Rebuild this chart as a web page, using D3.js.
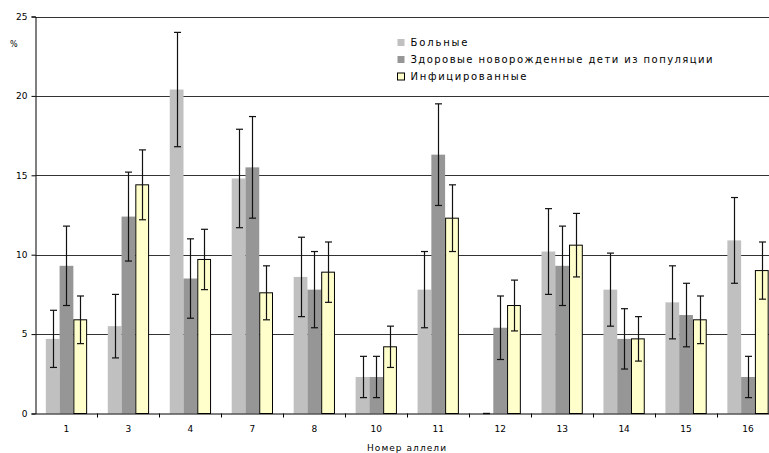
<!DOCTYPE html>
<html><head><meta charset="utf-8">
<script src="https://cdn.jsdelivr.net/npm/d3@7"></script>
<style>body{margin:0;background:#fff}svg{display:block}text{font-family:"DejaVu Sans",Verdana,sans-serif;fill:#000}</style>
</head><body>
<script>
const categories = ["1","3","4","7","8","10","11","12","13","14","15","16"];
const seriesNames = ["Больные","Здоровые новорожденные дети из популяции","Инфицированные"];
const patients    = [4.7,5.5,20.4,14.8,8.6,2.3,7.8,0,10.2,7.8,7.0,10.9];
const patientsErr = [1.8,2.0,3.6,3.1,2.5,1.3,2.4,0,2.7,2.3,2.3,2.7];
const healthy     = [9.3,12.4,8.5,15.5,7.8,2.3,16.3,5.4,9.3,4.7,6.2,2.3];
const healthyErr  = [2.5,2.8,2.5,3.2,2.4,1.3,3.2,2.0,2.5,1.9,2.0,1.3];
const infected    = [5.9,14.4,9.7,7.6,8.9,4.2,12.3,6.8,10.6,4.7,5.9,9.0];
const infectedErr = [1.5,2.2,1.9,1.7,1.9,1.3,2.1,1.6,2.0,1.4,1.5,1.8];
const yTicks = [0,5,10,15,20,25];
const yLabel = "%";
const xTitle = "Номер аллели";

(function(){
const W = 769, H = 453;
const colors = ["#c0c0c0","#969696","#ffffcc"];
const strokes = ["none","none","#000"];
const seriesVals = [patients, healthy, infected];
const seriesErr = [patientsErr, healthyErr, infectedErr];

const svg = d3.select("body").append("svg").attr("width", W).attr("height", H);
const pLeft = 35.5, pRight = 779, pBottom = 413.5, pTop = 16.5;
const x0 = d3.scaleBand().domain(categories).range([pLeft, pRight]).paddingInner(0).paddingOuter(0);
const x1 = d3.scaleBand().domain([0,1,2]).range([0, x0.bandwidth()]).paddingInner(0).paddingOuter(0.75);
const y = d3.scaleLinear().domain([0,25]).range([pBottom, pTop]);

// gridlines
svg.append("g").selectAll("line").data(yTicks.filter(d=>d>0)).join("line")
  .attr("x1", pLeft).attr("x2", pRight)
  .attr("y1", d=>Math.round(y(d))+0.5).attr("y2", d=>Math.round(y(d))+0.5)
  .attr("stroke", "#333").attr("stroke-width", 1);

// bars
const rows = [];
categories.forEach((c,i)=>{ for(let s=0;s<3;s++) rows.push({c, s, v: seriesVals[s][i], e: seriesErr[s][i]}); });
svg.append("g").selectAll("rect").data(rows).join("rect")
  .attr("x", d=>x0(d.c)+x1(d.s) + (d.s===2?0.5:0))
  .attr("width", d=>x1.bandwidth() - (d.s===2?1:0))
  .attr("y", d=>y(d.v))
  .attr("height", d=>Math.max(0, y(0)-y(d.v)))
  .attr("fill", d=>colors[d.s])
  .attr("stroke", d=>strokes[d.s]).attr("stroke-width", 1);

// error bars
const eg = svg.append("g").attr("stroke","#111").attr("stroke-width",1.2);
rows.forEach(d=>{
  const cx = Math.round(x0(d.c)+x1(d.s)+x1.bandwidth()/2)+0.5;
  const yt = y(d.v+d.e), yb = y(Math.max(0,d.v-d.e));
  eg.append("line").attr("x1",cx).attr("x2",cx).attr("y1",yt).attr("y2",yb);
  eg.append("line").attr("x1",cx-3.5).attr("x2",cx+3.5).attr("y1",yt).attr("y2",yt);
  eg.append("line").attr("x1",cx-3.5).attr("x2",cx+3.5).attr("y1",yb).attr("y2",yb);
});

// y axis
const yAxis = d3.axisLeft(y).tickValues(yTicks).tickSize(4).tickPadding(4).tickFormat(d3.format("d"));
const ya = svg.append("g").attr("transform",`translate(${pLeft},0)`).call(yAxis);
ya.select(".domain").attr("stroke","#000");
ya.selectAll(".tick line").attr("stroke","#000");
ya.selectAll("text").attr("font-size",9).attr("font-family","DejaVu Sans, sans-serif");

// x axis
const xAxis = d3.axisBottom(x0).tickSize(0).tickPadding(12);
const xa = svg.append("g").attr("transform",`translate(0,${pBottom})`).call(xAxis);
xa.select(".domain").attr("stroke","#000");
xa.selectAll("text").attr("font-size",9).attr("font-family","DejaVu Sans, sans-serif");
// boundary ticks
svg.append("g").selectAll("line").data(categories).join("line")
  .attr("x1", (d,i)=>Math.round(pLeft + (i+1)*x0.step())+0.5)
  .attr("x2", (d,i)=>Math.round(pLeft + (i+1)*x0.step())+0.5)
  .attr("y1", pBottom).attr("y2", pBottom+4).attr("stroke","#000");

svg.append("text").attr("x",10).attr("y",47).attr("font-size",8).text(yLabel);
svg.append("text").attr("x",367).attr("y",451).attr("font-size",9)
  .attr("textLength",79).attr("lengthAdjust","spacing").text(xTitle);

// legend
const lg = svg.append("g");
const legY = [42.5, 59.5, 76.5];
const legLen = [57, 302, 116];
seriesNames.forEach((n,i)=>{
  lg.append("rect").attr("x",397.5).attr("y",legY[i]-3.5).attr("width",7).attr("height",7)
    .attr("fill",colors[i]).attr("stroke", i===2?"#000":"none");
  lg.append("text").attr("x",410.5).attr("y",legY[i]+3.5).attr("font-size",10)
    .attr("textLength",legLen[i]).attr("lengthAdjust","spacing").text(n);
});
})();
</script>
</body></html>
